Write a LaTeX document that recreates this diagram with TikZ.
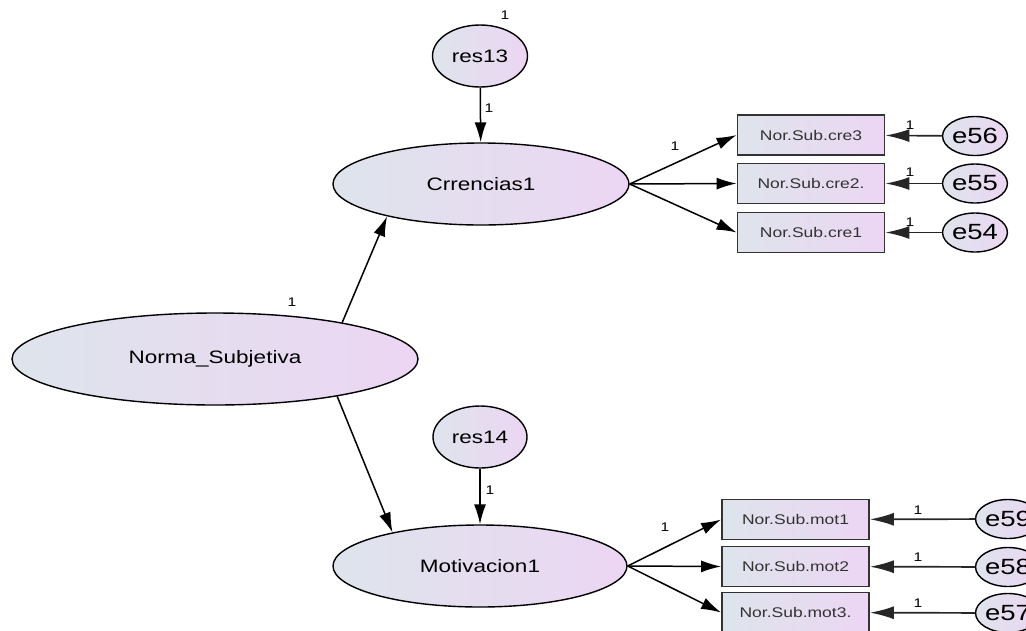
\documentclass[tikz,border=0pt]{standalone}
\usepackage{fontspec}
\newfontfamily\amosfont{Liberation Sans}[FakeStretch=1.25]
\usetikzlibrary{shapes.geometric, arrows.meta}
\definecolor{latleft}{RGB}{222,228,236}
\definecolor{latright}{RGB}{236,214,243}

\begin{document}
\begin{tikzpicture}
                [x=1pt, y=-1pt,
                latsty/.style={ellipse, draw=black, line width=1.4pt, left color=latleft, right color=latright, inner sep=0pt, font=\amosfont\fontsize{18}{20}\selectfont},
                errsty/.style={ellipse, draw=black, line width=1.4pt, left color=latleft, right color=latright, inner sep=0pt, minimum width=64, minimum height=39, font=\amosfont\fontsize{22}{24}\selectfont},
                obssty/.style={rectangle, draw=black!80, line width=1.8pt, left color=latleft, right color=latright, inner sep=0pt, minimum width=147, minimum height=40, font=\amosfont\fontsize{14}{16}\selectfont, text=black!80},
                onesty/.style={font=\amosfont\fontsize{12.5}{14}\selectfont, inner sep=0pt},
                asty/.style={-{Latex[length=20pt, width=12pt]}, line width=1.5pt},
                esty/.style={-{Latex[length=24pt, width=13pt]}, line width=1.7pt, draw=black!85}]
                \useasboundingbox (0,0) rectangle (1026,630);
                % latent variables
                \node[latsty, minimum width=406, minimum height=92] (n) at (215,359) {Norma\_Subjetiva};
                \node[latsty, minimum width=296, minimum height=82] (c) at (481,184) {Crrencias1};
                \node[latsty, minimum width=294, minimum height=82] (m) at (480,566) {Motivacion1};
                \node[latsty, minimum width=95, minimum height=62] (r13) at (480,56)  {res13};
                \node[latsty, minimum width=94, minimum height=62] (r14) at (480,437) {res14};
                % observed variables
                \node[obssty] (cre3) at (811,135)   {Nor.Sub.cre3};
                \node[obssty] (cre2) at (811,183.5) {Nor.Sub.cre2.};
                \node[obssty] (cre1) at (811,232.5) {Nor.Sub.cre1};
                \node[obssty] (mot1) at (795.5,519.5) {Nor.Sub.mot1};
                \node[obssty] (mot2) at (795.5,566.5) {Nor.Sub.mot2};
                \node[obssty] (mot3) at (795.5,612.5) {Nor.Sub.mot3.};
                % errors
                \node[errsty] (e56) at (975,136)   {e56};
                \node[errsty] (e55) at (975,183.5) {e55};
                \node[errsty] (e54) at (975,232.5) {e54};
                \node[errsty] (e59) at (1008,519)  {e59};
                \node[errsty] (e58) at (1008,567)  {e58};
                \node[errsty] (e57) at (1008,613)  {e57};
                % paths
                \draw[asty] (n.16.6) -- (c.199);
                \draw[asty] (n.-17.6) -- (m.159.6);
                \draw[asty] (r13) -- (c);
                \draw[asty] (r14) -- (m);
                \draw[asty] (c.east) -- (cre3.west);
                \draw[asty] (c.east) -- (cre2.west);
                \draw[asty] (c.east) -- (cre1.west);
                \draw[asty] (m.east) -- (mot1.west);
                \draw[asty] (m.east) -- (mot2.west);
                \draw[asty] (m.east) -- (mot3.west);
                \draw[esty] (e56) -- (cre3);
                \draw[esty] (e55) -- (cre2);
                \draw[esty] (e54) -- (cre1);
                \draw[esty] (e59) -- (mot1);
                \draw[esty] (e58) -- (mot2);
                \draw[esty] (e57) -- (mot3);
                % weights
                \node[onesty] (wn)   at (292,302) {1};
                \node[onesty] (wr13) at (505,15)  {1};
                \node[onesty] (wrc)  at (489,108) {1};
                \node[onesty] (wc)   at (675,146) {1};
                \node[onesty] (w56)  at (910,125) {1};
                \node[onesty] (w55)  at (910,172) {1};
                \node[onesty] (w54)  at (910,222) {1};
                \node[onesty] (wrm)  at (490,490) {1};
                \node[onesty] (wm)   at (665,527) {1};
                \node[onesty] (w59)  at (918,510) {1};
                \node[onesty] (w58)  at (918,557) {1};
                \node[onesty] (w57)  at (918,603) {1};
            \end{tikzpicture}
\end{document}
